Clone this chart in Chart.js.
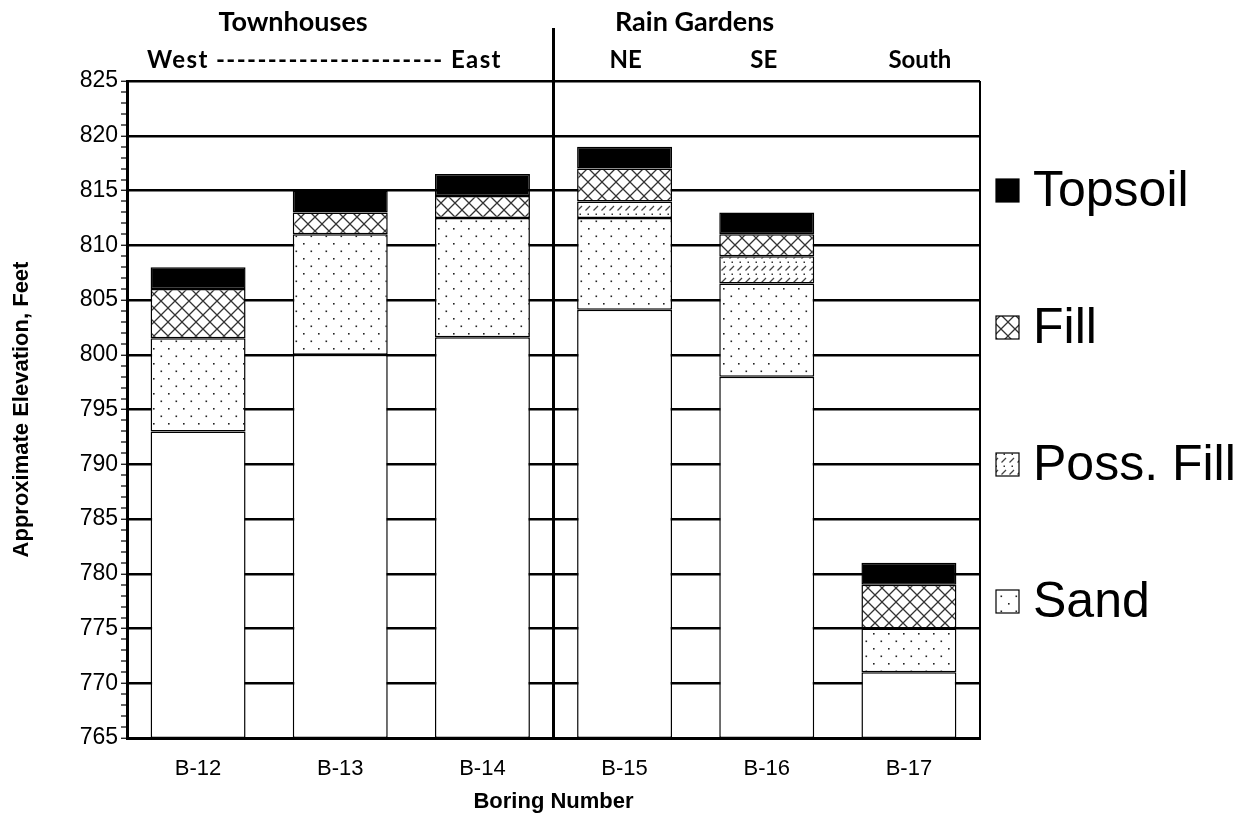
<!DOCTYPE html>
<html>
<head>
<meta charset="utf-8">
<script src="https://cdn.jsdelivr.net/npm/chart.js@4.4.0/dist/chart.umd.min.js"></script>
<style>
  html, body { margin: 0; padding: 0; background: #fff; }
  #wrap { width: 1252px; height: 817px; position: relative; }
</style>
</head>
<body>
<div id="wrap"><canvas id="chart"></canvas></div>
<script>
// Boring logs - elevation of the top of each layer (ft)
const borings = ['B-12', 'B-13', 'B-14', 'B-15', 'B-16', 'B-17'];
const baseElevation = 765;
const nativeTop   = [793, 800, 801.6, 804.1, 798, 771];
const sandTop     = [801.5, 811, 812.5, 812.5, 806.5, 775];
const possFillTop = [801.5, 811, 812.5, 814, 809, 775];
const fillTop     = [806, 813, 814.5, 817, 811, 779];
const topsoilTop  = [808, 815, 816.5, 819, 813, 781];

// Header text above the plot
const groupTitles = ['Townhouses', 'Rain Gardens'];
const townhouseSub = 'West ---------------------- East';
const rainGardenSubs = ['NE', 'SE', 'South'];

const FONT = "'Liberation Sans', Arial, sans-serif";
const HEAD_FONT = "Lato, 'Open Sans', sans-serif";

// build a layer as floating bars [bottom, top]
function layer(bottoms, tops) {
    return tops.map((t, i) => (t > bottoms[i] ? [bottoms[i], t] : null));
}

function makePattern(w, h, draw) {
    const c = document.createElement('canvas');
    c.width = w;
    c.height = h;
    const g = c.getContext('2d');
    g.fillStyle = '#fff';
    g.fillRect(0, 0, w, h);
    draw(g);
    return g.createPattern(c, 'repeat');
}

const crossHatch = makePattern(14, 14, g => {
    g.strokeStyle = '#333';
    g.lineWidth = 1.3;
    g.beginPath();
    g.moveTo(-1, -1); g.lineTo(15, 15);
    g.moveTo(15, -1); g.lineTo(-1, 15);
    g.stroke();
});

const dots = makePattern(15, 15, g => {
    g.fillStyle = '#222';
    g.fillRect(3, 3, 1.6, 1.6);
    g.fillRect(10.5, 10.5, 1.6, 1.6);
});

const dashes = makePattern(8, 12, g => {
    g.strokeStyle = '#444';
    g.lineWidth = 1.3;
    g.beginPath();
    g.moveTo(1.5, 6.5); g.lineTo(6, 2);
    g.stroke();
    g.fillStyle = '#333';
    g.fillRect(3.5, 9.5, 1.5, 1.5);
});

const baseRow = borings.map(() => baseElevation);

const datasets = [
    { label: 'Native', data: layer(baseRow, nativeTop), backgroundColor: '#fff' },
    { label: 'Sand', data: layer(nativeTop, sandTop), backgroundColor: dots },
    { label: 'Poss. Fill', data: layer(sandTop, possFillTop), backgroundColor: dashes },
    { label: 'Fill', data: layer(possFillTop, fillTop), backgroundColor: crossHatch },
    { label: 'Topsoil', data: layer(fillTop, topsoilTop), backgroundColor: '#000' }
].map(ds => Object.assign(ds, {
    borderColor: '#000',
    borderWidth: 1.5,
    borderSkipped: false,
    grouped: false,
    categoryPercentage: 1,
    barPercentage: 0.668
}));

// headers, divider, right frame and legend
const decorations = {
    id: 'decorations',
    afterDraw(chart) {
        const { ctx, chartArea, scales } = chart;
        const x = scales.x;
        ctx.save();

        // right frame line
        ctx.strokeStyle = '#000';
        ctx.lineWidth = 2;
        ctx.beginPath();
        ctx.moveTo(chartArea.right, chartArea.top);
        ctx.lineTo(chartArea.right, chartArea.bottom);
        ctx.stroke();

        // divider between townhouses and rain gardens
        const divX = x.getPixelForValue(2.5);
        ctx.lineWidth = 3;
        ctx.beginPath();
        ctx.moveTo(divX, 28);
        ctx.lineTo(divX, chartArea.bottom);
        ctx.stroke();

        ctx.fillStyle = '#000';
        ctx.textAlign = 'center';
        ctx.textBaseline = 'middle';
        ctx.font = 'bold 27px ' + HEAD_FONT;
        ctx.fillText(groupTitles[0], x.getPixelForValue(0) + 95, 22);
        ctx.fillText(groupTitles[1], x.getPixelForValue(3) + 70, 22);
        ctx.font = 'bold 24px ' + HEAD_FONT;
        ctx.textAlign = 'left';
        ctx.letterSpacing = '1.4px';
        ctx.fillText(townhouseSub, x.getPixelForValue(0) - 51, 60);
        ctx.letterSpacing = '0px';
        ctx.textAlign = 'center';
        const subOffsets = [1, -3, 11];
        rainGardenSubs.forEach((s, i) => ctx.fillText(s, x.getPixelForValue(3 + i) + subOffsets[i], 60));

        // legend, top layer first
        const items = chart.data.datasets.slice(1).reverse();
        ctx.textAlign = 'left';
        ctx.font = '50px ' + FONT;
        items.forEach((ds, i) => {
            const cy = 190 + i * 137;
            ctx.fillStyle = ds.backgroundColor;
            ctx.fillRect(996, cy - 11, 23, 23);
            ctx.strokeStyle = '#000';
            ctx.lineWidth = 1.2;
            ctx.strokeRect(996, cy - 11, 23, 23);
            ctx.fillStyle = '#000';
            ctx.fillText(ds.label, 1033, cy + 2);
        });
        ctx.restore();
    }
};

new Chart(document.getElementById('chart'), {
    type: 'bar',
    data: { labels: borings, datasets: datasets },
    options: {
        responsive: true,
        maintainAspectRatio: false,
        animation: false,
        events: [],
        layout: { padding: { top: 81, right: 272, left: 0, bottom: 0 } },
        plugins: {
            legend: { display: false },
            tooltip: { enabled: false }
        },
        scales: {
            x: {
                grid: { display: false, drawTicks: false },
                border: { color: '#000', width: 3 },
                ticks: { color: '#000', font: { family: FONT, size: 22 }, padding: 18 },
                title: {
                    display: true,
                    text: 'Boring Number',
                    color: '#000',
                    font: { family: FONT, size: 22, weight: 'bold' },
                    padding: { top: 0, bottom: 2 }
                },
                afterFit: s => { s.height = 79; }
            },
            y: {
                min: 765,
                max: 825,
                ticks: {
                    stepSize: 1,
                    autoSkip: false,
                    color: '#000',
                    font: { family: FONT, size: 23 },
                    padding: 3,
                    callback: v => (v % 5 === 0 ? v : '')
                },
                grid: {
                    color: c => (c.tick && c.tick.value % 5 === 0 ? '#000' : 'rgba(0,0,0,0)'),
                    lineWidth: c => (c.tick && c.tick.value % 5 === 0 ? 2.5 : 0),
                    tickColor: '#000',
                    tickWidth: 1.2,
                    tickLength: 6
                },
                border: { color: '#000', width: 3 },
                title: {
                    display: true,
                    text: 'Approximate Elevation, Feet',
                    color: '#000',
                    font: { family: FONT, size: 22, weight: 'bold' },
                    padding: { top: 9, bottom: 0 }
                },
                afterFit: s => { s.width = 127; }
            }
        }
    },
    plugins: [decorations]
});
</script>
</body>
</html>
